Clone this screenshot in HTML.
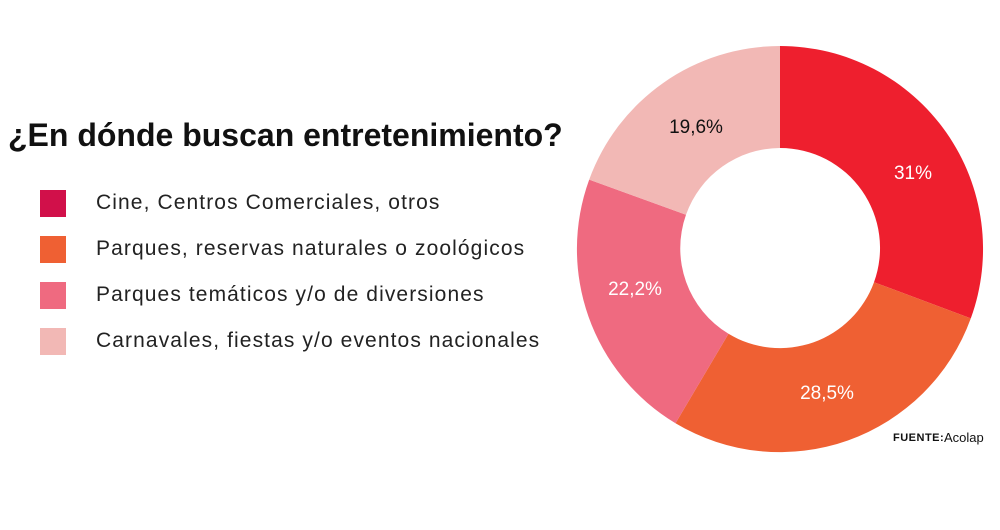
<!DOCTYPE html>
<html><head><meta charset="utf-8"><style>
body{margin:0;width:1000px;height:530px;background:#fff;font-family:"Liberation Sans",sans-serif;position:relative;overflow:hidden}
.t{position:absolute;left:8px;top:117px;font-size:32px;font-weight:bold;color:#111;white-space:nowrap;letter-spacing:0px}
.sq{position:absolute;left:40px;width:26px;height:27px}
.lt{position:absolute;left:96px;font-size:21px;color:#222;white-space:nowrap;letter-spacing:1.1px}
</style></head><body>
<div class="t">¿En dónde buscan entretenimiento?</div>
<div class="sq" style="top:190px;background:#d1104a"></div><div class="lt" style="top:191px">Cine, Centros Comerciales, otros</div>
<div class="sq" style="top:236px;background:#ef6033"></div><div class="lt" style="top:237px">Parques, reservas naturales o zoológicos</div>
<div class="sq" style="top:282px;background:#ef6a80"></div><div class="lt" style="top:283px">Parques temáticos y/o de diversiones</div>
<div class="sq" style="top:328px;background:#f2b8b5"></div><div class="lt" style="top:329px">Carnavales, fiestas y/o eventos nacionales</div>
<svg width="1000" height="530" style="position:absolute;left:0;top:0">
<path d="M780,46 A203,203 0 0 1 970.8,318.4 L874,282.2 A100,100 0 0 0 780,148 Z" fill="#ee1f2e"/>
<path d="M970.8,318.4 A203,203 0 0 1 675.5,423.2 L728.5,333.8 A100,100 0 0 0 874,282.2 Z" fill="#ef6033"/>
<path d="M675.5,423.2 A203,203 0 0 1 589.2,179.6 L686,214.8 A100,100 0 0 0 728.5,333.8 Z" fill="#ef6a80"/>
<path d="M589.2,179.6 A203,203 0 0 1 780,46 L780,148 A100,100 0 0 0 686,214.8 Z" fill="#f2b8b5"/>
<g font-family="Liberation Sans,sans-serif" font-size="19" text-anchor="middle">
<text x="913" y="179" fill="#fff">31%</text>
<text x="827" y="399" fill="#fff">28,5%</text>
<text x="635" y="295" fill="#fff">22,2%</text>
<text x="696" y="133" fill="#111">19,6%</text>
</g>
<text x="893" y="441" font-family="Liberation Sans,sans-serif" font-size="11" font-weight="bold" fill="#111" letter-spacing="0.5">FUENTE:</text>
<text x="944" y="442" font-family="Liberation Sans,sans-serif" font-size="13" fill="#111">Acolap</text>
</svg>
</body></html>
